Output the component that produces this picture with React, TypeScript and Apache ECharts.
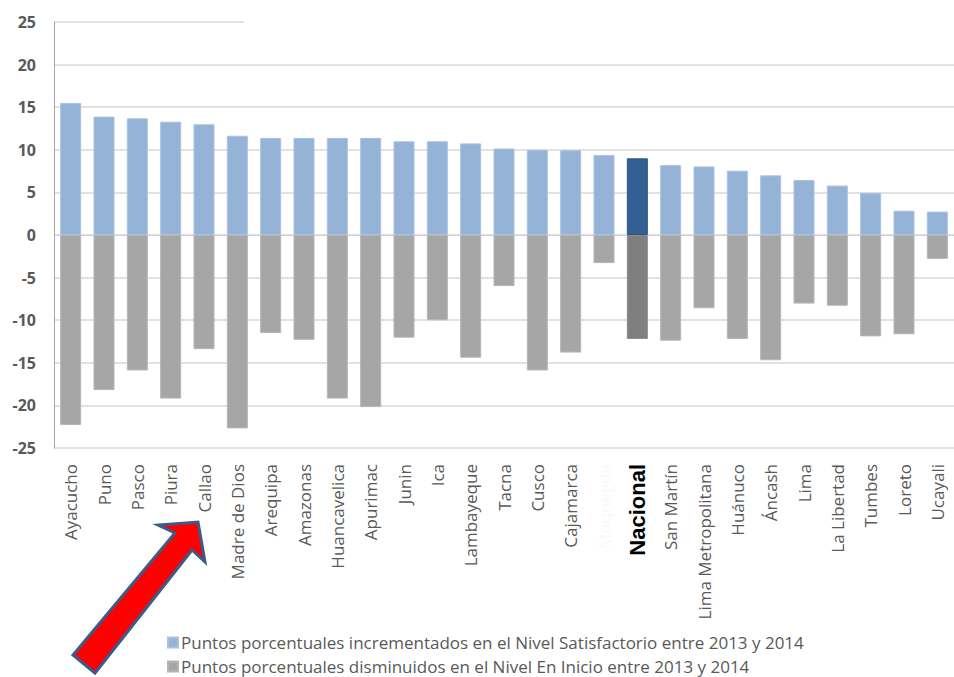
import React, { useEffect, useRef } from "react";
import * as echarts from "echarts";

const categories = [
  "Ayacucho", "Puno", "Pasco", "Piura", "Callao", "Madre de Dios", "Arequipa",
  "Amazonas", "Huancavelica", "Apurimac", "Junin", "Ica", "Lambayeque", "Tacna",
  "Cusco", "Cajamarca", "Moquegua", "Nacional", "San Martín", "Lima Metropolitana",
  "Huánuco", "Áncash", "Lima", "La Libertad", "Tumbes", "Loreto", "Ucayali",
];

const satisfactorio = [
  15.5, 13.9, 13.7, 13.3, 13.0, 11.65, 11.4, 11.4, 11.4, 11.4, 11.0, 11.0, 10.75,
  10.15, 10.0, 9.95, 9.4, 9.0, 8.2, 8.05, 7.55, 7.0, 6.45, 5.8, 4.95, 2.85, 2.75,
];

const enInicio = [
  -22.3, -18.2, -15.9, -19.2, -13.4, -22.7, -11.5, -12.3, -19.2, -20.2, -12.05,
  -10.0, -14.4, -6.0, -15.9, -13.8, -3.3, -12.2, -12.4, -8.6, -12.2, -14.7, -8.05,
  -8.3, -11.9, -11.65, -2.8,
];

const yTicks = { min: -25, max: 25, interval: 5 };

const seriesNames = [
  "Puntos porcentuales incrementados en el Nivel Satisfactorio entre 2013 y 2014",
  "Puntos porcentuales disminuidos en el Nivel En Inicio entre 2013 y 2014",
];

const highlight = "Nacional";

export default function App() {
  const ref = useRef<HTMLDivElement>(null);

  useEffect(() => {
    if (!ref.current) return;
    const chart = echarts.init(ref.current, null, { renderer: "svg" });
    const font = "'Open Sans', 'Noto Sans', sans-serif";

    const blueData = satisfactorio.map((v, i) =>
      categories[i] === highlight
        ? { value: v, itemStyle: { color: "#335f92", borderColor: "#2c5384" } }
        : v
    );
    const grayData = enInicio.map((v, i) =>
      categories[i] === highlight
        ? { value: v, itemStyle: { color: "#7f7f7f", borderColor: "#8c8c8c" } }
        : v
    );

    const legendBase = {
      orient: "horizontal",
      left: 162,
      itemWidth: 10,
      itemHeight: 10,
      itemGap: 8,
      icon: "rect",
      selectedMode: false,
      textStyle: { color: "#595959", fontSize: 17, fontFamily: font, padding: [0, 0, 0, -2] },
    };

    chart.setOption({
      animation: false,
      backgroundColor: "#ffffff",
      grid: { left: 54, right: -8, top: 22, bottom: 229, containLabel: false },
      legend: [
        { ...legendBase, top: 629, data: [seriesNames[0]] },
        { ...legendBase, top: 653, data: [seriesNames[1]] },
      ],
      xAxis: {
        type: "category",
        data: categories,
        axisTick: { show: false },
        axisLine: { show: true, lineStyle: { color: "#d0d0d0", width: 1 } },
        axisLabel: {
          rotate: 90,
          interval: 0,
          margin: 16,
          color: "#595959",
          fontSize: 17,
          fontFamily: font,
          formatter: (v: string) => (v === highlight ? `{n|${v}}` : v),
          rich: {
            n: {
              fontSize: 22,
              fontWeight: "bold",
              color: "#000000",
              fontFamily: "'Liberation Sans', Arial, sans-serif",
            },
          },
        },
      },
      yAxis: {
        type: "value",
        min: yTicks.min,
        max: yTicks.max,
        interval: yTicks.interval,
        axisLine: { show: true, lineStyle: { color: "#a6a6a6" } },
        axisTick: { show: false },
        splitLine: { lineStyle: { color: "#d9d9d9", width: 1.5 } },
        axisLabel: {
          color: "#595959",
          fontSize: 16,
          fontWeight: "bold",
          fontFamily: font,
          margin: 18,
        },
      },
      series: [
        {
          name: seriesNames[0],
          type: "bar",
          data: blueData,
          barWidth: 21,
          barGap: "-100%",
          itemStyle: { color: "#95b3d7", borderColor: "#a9c2e0", borderWidth: 1 },
        },
        {
          name: seriesNames[1],
          type: "bar",
          data: grayData,
          barWidth: 21,
          itemStyle: { color: "#a6a6a6", borderColor: "#b5b5b5", borderWidth: 1 },
        },
      ],
      graphic: [
        {
          type: "rect",
          z: 100,
          shape: { x: 244, y: 17, width: 720, height: 8 },
          style: { fill: "#ffffff" },
        },
        {
          type: "rect",
          z: 100,
          shape: { x: 596, y: 460, width: 24, height: 92 },
          style: { fill: "#ffffff", opacity: 0.96 },
        },
        {
          type: "polygon",
          z: 101,
          shape: {
            points: [
              [198, 522],
              [205, 562],
              [192, 550],
              [95, 673],
              [73, 655],
              [175, 533],
              [158, 525],
            ],
          },
          style: { fill: "#ff0000", stroke: "#3b5b88", lineWidth: 3, lineJoin: "miter" },
        },
      ],
    });

    return () => chart.dispose();
  }, []);

  return <div ref={ref} style={{ width: 954, height: 677, position: "absolute", left: 0, top: 0 }} />;
}
